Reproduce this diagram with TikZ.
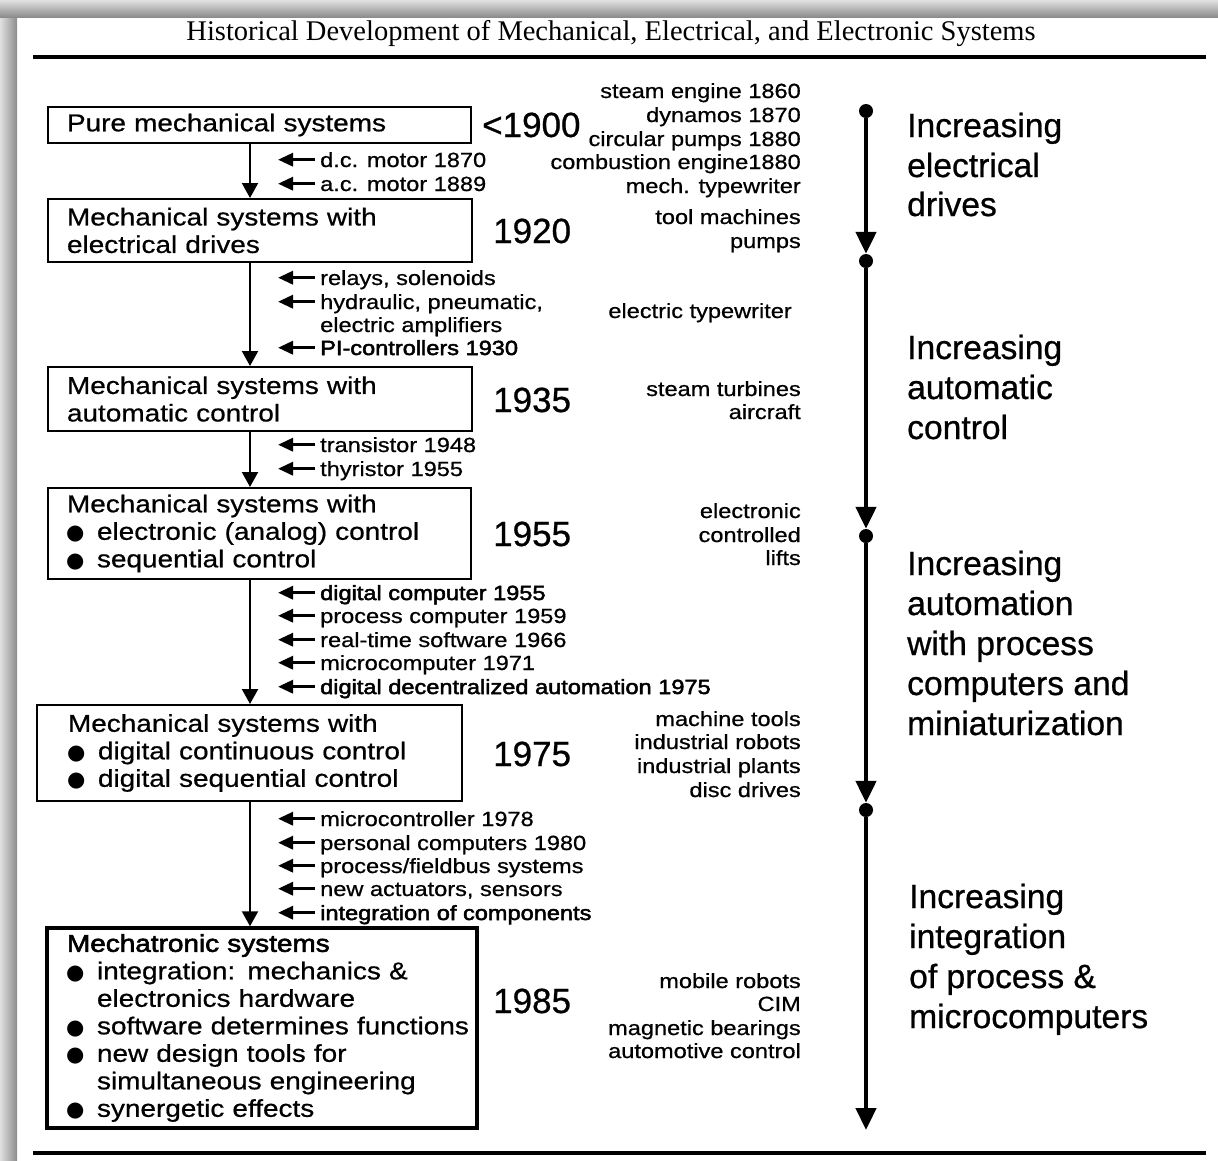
\documentclass[tikz,border=0pt]{standalone}
\usepackage{fontspec}
\setmainfont{Liberation Serif}
\newfontfamily\sansplain[FakeBold=0.7]{Liberation Sans}
\newfontfamily\sanswide[FakeStretch=1.15,FakeBold=0.7]{Liberation Sans}
\newfontfamily\sansdark[FakeStretch=1.15,FakeBold=2.4]{Liberation Sans}
\newfontfamily\symfont{DejaVu Sans}
\usetikzlibrary{arrows.meta}

% text sizes
\newcommand\boxfont{\sanswide\fontsize{24.3}{27.5}\selectfont}
\newcommand\notefont{\sanswide\fontsize{20.5}{23.5}\selectfont}
\newcommand\yearfont{\sansplain\fontsize{35}{35}\selectfont}
\newcommand\phasefont{\sansplain\fontsize{33.6}{39.5}\selectfont}
% bullet with fixed advance inside the stage boxes
\newcommand\dotitem{\makebox[30pt][l]{\hspace*{-1pt}\raisebox{0pt}{\symfont\fontsize{21}{21}\selectfont ●}}}

\tikzset{
  stage/.style={draw, line width=2pt, inner sep=0pt, align=left, font=\boxfont},
  note/.style={font=\notefont, inner sep=0pt, anchor=base west},
  item/.style={font=\notefont, inner sep=0pt, anchor=base east},
  year/.style={font=\yearfont, inner sep=0pt, anchor=base west},
  phase/.style={font=\phasefont, inner sep=0pt, anchor=base west},
  flow/.style={line width=2.2pt, -{Triangle[length=15pt,width=16pt]}},
  nib/.style={line width=3.2pt, -{Triangle[length=15pt,width=13pt]}},
  tl/.style={line width=4.5pt, -{Triangle[length=22pt,width=20pt]}},
  tdot/.style={circle, fill, inner sep=0pt, minimum size=14pt},
}

% a side annotation with a small arrow pointing at the development line
\newcommand\inflow[4]{%
  \node[note] (#1) at (320,#2) {#4#3};
  \draw[nib] ([shift={(-5,-7.3)}]#1.base west) -- ++(-37,0);}

\begin{document}
\begin{tikzpicture}[x=1pt,y=-1pt]
\useasboundingbox (0,0) rectangle (1218,1160);

% frame shadow
\shade[left color=black!12, right color=black!45] (0,0) rectangle (17,1160);
\shade[top color=black!12, bottom color=black!45] (0,0) rectangle (1218,17);

% heading and rules
\node[font=\fontsize{28.5}{28.5}\selectfont, anchor=base, inner sep=0pt] (title) at (611,40)
  {Historical Development of Mechanical, Electrical, and Electronic Systems};
\draw[line width=4pt] (33,57) -- (1206,57);
\draw[line width=4pt] (33,1153) -- (1206,1153);

% development stages
\node[stage, minimum height=36pt, text width=423pt] (b1) at (259.5,125)
  {\leftskip=19pt Pure mechanical systems\par};
\node[stage, minimum height=63pt, text width=424pt] (b2) at (260,230.5)
  {\leftskip=19pt Mechanical systems with\\electrical drives\par};
\node[stage, minimum height=64pt, text width=424pt] (b3) at (260,399)
  {\leftskip=19pt Mechanical systems with\\automatic control\par};
\node[stage, minimum height=91pt, text width=423pt] (b4) at (259.5,533.5)
  {\leftskip=19pt Mechanical systems with\\\dotitem electronic (analog) control\\\dotitem sequential control\par};
\node[stage, minimum height=96pt, text width=425pt] (b5) at (249.5,753)
  {\leftskip=31pt Mechanical systems with\\\dotitem digital continuous control\\\dotitem digital sequential control\par};
\node[stage, line width=3.5pt, minimum height=200pt, text width=430pt] (b6) at (262,1028)
  {\leftskip=20pt {\sansdark Mechatronic systems}\\\dotitem integration: mechanics \&\\\hspace*{30pt}electronics hardware\\\dotitem software determines functions\\\dotitem new design tools for\\\hspace*{30pt}simultaneous engineering\\\dotitem synergetic effects\par};

% development line
\coordinate (spine) at (250,0);
\draw[flow] (b1.south -| spine) -- (b2.north -| spine);
\draw[flow] (b2.south -| spine) -- (b3.north -| spine);
\draw[flow] (b3.south -| spine) -- (b4.north -| spine);
\draw[flow] (b4.south -| spine) -- (b5.north -| spine);
\draw[flow] (b5.south -| spine) -- (b6.north -| spine);

% years
\node[year] (y1) at (482,137) {<1900};
\node[year] (y2) at (493,243) {1920};
\node[year] (y3) at (493,412) {1935};
\node[year] (y4) at (493,546) {1955};
\node[year] (y5) at (493,766) {1975};
\node[year] (y6) at (493,1013) {1985};

% enabling technologies
\inflow{n1}{167}{d.c. motor 1870}{}
\inflow{n2}{191}{a.c. motor 1889}{}
\inflow{n3}{285}{relays, solenoids}{}
\inflow{n4}{309}{hydraulic, pneumatic,}{}
\node[note] (n5) at (320,332) {electric amplifiers};
\inflow{n6}{355}{PI-controllers 1930}{\sansdark}
\inflow{n7}{452}{transistor 1948}{}
\inflow{n8}{476}{thyristor 1955}{}
\inflow{n9}{600}{digital computer 1955}{\sansdark}
\inflow{n10}{623}{process computer 1959}{}
\inflow{n11}{647}{real-time software 1966}{}
\inflow{n12}{670}{microcomputer 1971}{}
\inflow{n13}{694}{digital decentralized automation 1975}{\sansdark}
\inflow{n14}{826}{microcontroller 1978}{}
\inflow{n15}{850}{personal computers 1980}{}
\inflow{n16}{873}{process/fieldbus systems}{}
\inflow{n17}{896}{new actuators, sensors}{}
\inflow{n18}{920}{integration of components}{\sansdark}

% products
\foreach \txt/\yy [count=\k] in {
  steam engine 1860/98, dynamos 1870/122, circular pumps 1880/146,
  combustion engine1880/169, mech. typewriter/193,
  tool machines/224, pumps/248,
  steam turbines/396, aircraft/419,
  electronic/518, controlled/542, lifts/565,
  machine tools/726, industrial robots/749, industrial plants/773, disc drives/797,
  mobile robots/988, CIM/1011, magnetic bearings/1035, automotive control/1058}
  \node[item] (p\k) at (801,\yy) {\txt};
\node[item] (p21) at (792,318) {electric typewriter};

% phases
\node[tdot] (t1) at (866,111) {};
\node[tdot] (t2) at (866,261) {};
\node[tdot] (t3) at (866,536) {};
\node[tdot] (t4) at (866,810) {};
\coordinate (tend) at (866,1130);
\draw[tl] (t1) -- (t2);
\draw[tl] (t2) -- (t3);
\draw[tl] (t3) -- (t4);
\draw[tl] (t4) -- (tend);

\node[phase] (h1) at (907,137) {Increasing};
\node[phase] (h2) at (907,177) {electrical};
\node[phase] (h3) at (907,216) {drives};
\node[phase] (h4) at (907,359) {Increasing};
\node[phase] (h5) at (907,399) {automatic};
\node[phase] (h6) at (907,439) {control};
\node[phase] (h7) at (907,575) {Increasing};
\node[phase] (h8) at (907,615) {automation};
\node[phase] (h9) at (907,655) {with process};
\node[phase] (h10) at (907,695) {computers and};
\node[phase] (h11) at (907,735) {miniaturization};
\node[phase] (h12) at (909,908) {Increasing};
\node[phase] (h13) at (909,948) {integration};
\node[phase] (h14) at (909,988) {of process \&};
\node[phase] (h15) at (909,1028) {microcomputers};
\end{tikzpicture}
\end{document}
